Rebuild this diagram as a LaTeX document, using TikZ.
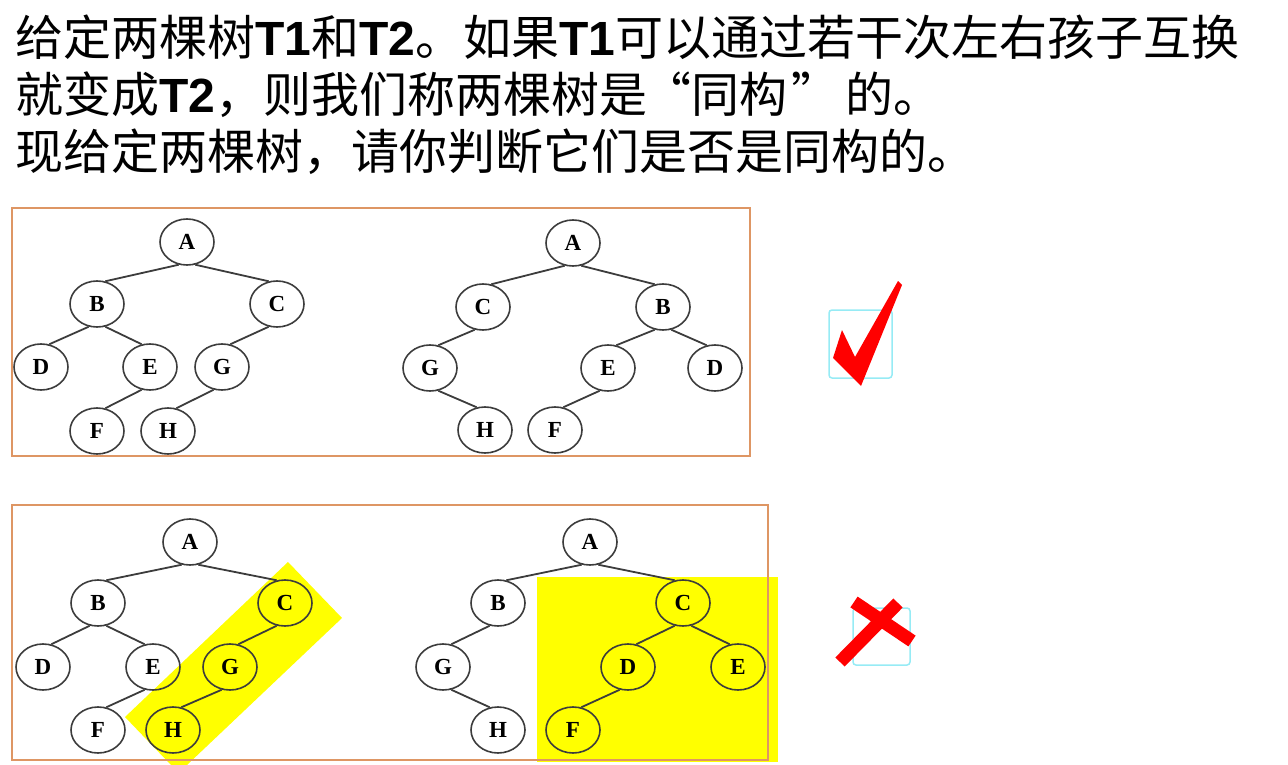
\documentclass[tikz,border=0pt]{standalone}
\usepackage{fontspec}
\setmainfont{Liberation Serif}
\newfontfamily\cjk{Noto Sans CJK SC}
\newfontfamily\latinsans{Liberation Sans}
\usetikzlibrary{shapes.geometric}
\definecolor{treegray}{RGB}{60,60,60}
\definecolor{frameorange}{RGB}{222,150,100}
\definecolor{boxcyan}{RGB}{150,235,245}
\definecolor{markred}{RGB}{255,0,0}
\definecolor{hiyellow}{RGB}{255,255,0}
\newcommand{\Tid}[1]{{\latinsans\bfseries #1}}

\begin{document}
\begin{tikzpicture}[
  x=1pt, y=-1pt,
  vtx/.style={draw=treegray, line width=1.6pt, ellipse, minimum width=54pt, minimum height=46pt, inner sep=0pt, font=\fontsize{23}{23}\selectfont\bfseries},
  link/.style={draw=treegray, line width=1.8pt},
  frame/.style={draw=frameorange, line width=1.5pt},
  hilite/.style={fill=hiyellow, draw=none},
  markbox/.style={draw=boxcyan, line width=1.5pt, rounded corners=3pt},
  txt/.style={anchor=base west, inner sep=0pt, font=\cjk\fontsize{48}{56}\selectfont}
]
\useasboundingbox (0,0) rectangle (1288,765);

% question text
\node[txt] (line1) at (15,56) {给定两棵树\Tid{T1}和\Tid{T2}。如果\Tid{T1}可以通过若干次左右孩子互换};
\node[txt] (line2) at (15,113) {就变成\Tid{T2}，则我们称两棵树是\hspace{-4pt}“同构\hspace{4pt}”\hspace{6pt}的。};
\node[txt] (line3) at (15,170) {现给定两棵树，请你判断它们是否是同构的。};

% highlights under the second pair
\fill[hilite] (288,562) -- (342,618) -- (187,765) -- (171,765) -- (125,717) -- cycle;
\fill[hilite] (537,577) rectangle (778,762);

% frames
\draw[frame] (12,208) rectangle (750,456);
\draw[frame] (12,505) rectangle (768,760);

% first pair: T1
\node[vtx] (xA) at (187,242) {A};
\node[vtx] (xB) at (97,304) {B};
\node[vtx] (xC) at (277,304) {C};
\node[vtx] (xD) at (41,367) {D};
\node[vtx] (xE) at (150,367) {E};
\node[vtx] (xG) at (222,367) {G};
\node[vtx] (xF) at (97,431) {F};
\node[vtx] (xH) at (168,431) {H};
\draw[link] (xA.250) -- (xB.70) (xA.290) -- (xC.110) (xB.250) -- (xD.70) (xB.290) -- (xE.110)
  (xE.250) -- (xF.70) (xC.250) -- (xG.70) (xG.250) -- (xH.70);

% first pair: T2
\node[vtx] (yA) at (573,243) {A};
\node[vtx] (yC) at (483,307) {C};
\node[vtx] (yB) at (663,307) {B};
\node[vtx] (yG) at (430,368) {G};
\node[vtx] (yE) at (608,368) {E};
\node[vtx] (yD) at (715,368) {D};
\node[vtx] (yH) at (485,430) {H};
\node[vtx] (yF) at (555,430) {F};
\draw[link] (yA.250) -- (yC.70) (yA.290) -- (yB.110) (yC.250) -- (yG.70) (yG.290) -- (yH.110)
  (yB.250) -- (yE.70) (yB.290) -- (yD.110) (yE.250) -- (yF.70);

% second pair: T1
\node[vtx] (uA) at (190,542) {A};
\node[vtx] (uB) at (98,603) {B};
\node[vtx] (uC) at (285,603) {C};
\node[vtx] (uD) at (43,667) {D};
\node[vtx] (uE) at (153,667) {E};
\node[vtx] (uG) at (230,667) {G};
\node[vtx] (uF) at (98,730) {F};
\node[vtx] (uH) at (173,730) {H};
\draw[link] (uA.250) -- (uB.70) (uA.290) -- (uC.110) (uB.250) -- (uD.70) (uB.290) -- (uE.110)
  (uE.250) -- (uF.70) (uC.250) -- (uG.70) (uG.250) -- (uH.70);

% second pair: T2
\node[vtx] (vA) at (590,542) {A};
\node[vtx] (vB) at (498,603) {B};
\node[vtx] (vC) at (683,603) {C};
\node[vtx] (vG) at (443,667) {G};
\node[vtx] (vD) at (628,667) {D};
\node[vtx] (vE) at (738,667) {E};
\node[vtx] (vH) at (498,730) {H};
\node[vtx] (vF) at (573,730) {F};
\draw[link] (vA.250) -- (vB.70) (vA.290) -- (vC.110) (vB.250) -- (vG.70) (vG.290) -- (vH.110)
  (vC.250) -- (vD.70) (vC.290) -- (vE.110) (vD.250) -- (vF.70);

% verdicts
\draw[markbox] (829,310) rectangle (892,378);
\fill[markred] (833,358) -- (842,330) -- (855,357) -- (898,281) -- (902,285) -- (861,386) -- cycle;
\draw[markbox] (853,608) rectangle (910,665);
\draw[markred, line width=13pt] (854,602) -- (912,641);
\draw[markred, line width=13pt] (898,603) -- (840,662);
\end{tikzpicture}
\end{document}
